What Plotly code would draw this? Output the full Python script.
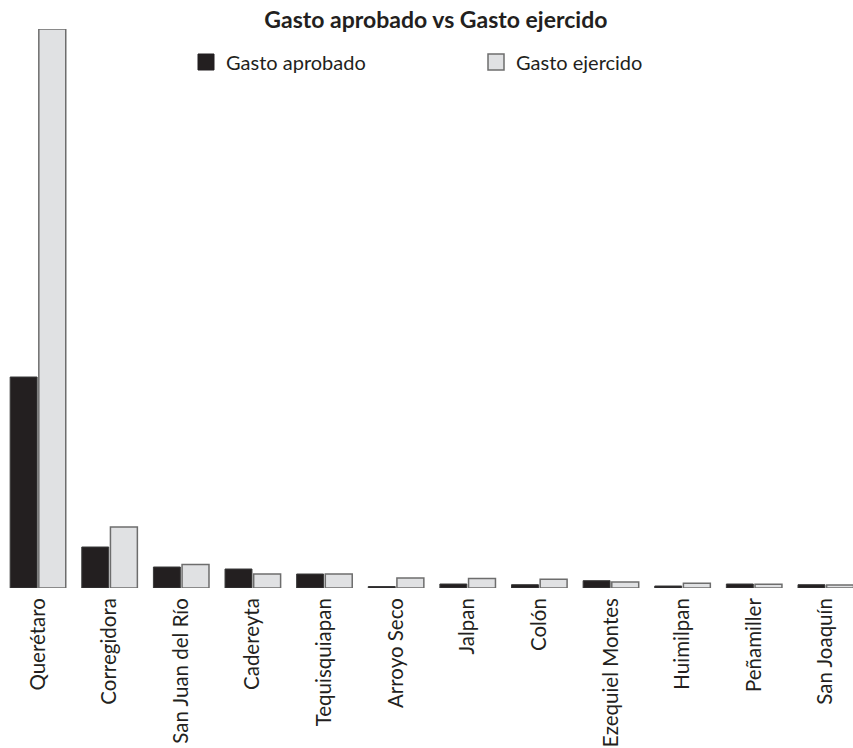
import plotly.graph_objects as go

categorias = ["Querétaro", "Corregidora", "San Juan del Río", "Cadereyta", "Tequisquiapan",
              "Arroyo Seco", "Jalpan", "Colón", "Ezequiel Montes", "Huimilpan",
              "Peñamiller", "San Joaquín"]
gasto_aprobado = [211, 41, 21, 19, 14, 1.5, 4, 3.3, 7.3, 2, 4, 3.3]
gasto_ejercido = [559, 61, 23.5, 14, 14, 10, 9.5, 8.7, 6, 4.7, 3.7, 3]

FONT = "Lato"
DARK = "#231f20"
LIGHT = "#e0e1e3"

fig = go.Figure()
fig.add_trace(go.Bar(
    name="Gasto aprobado", x=categorias, y=gasto_aprobado, showlegend=False,
    marker=dict(color=DARK, line=dict(color="#3a3a3a", width=1)),
))
fig.add_trace(go.Bar(
    name="Gasto ejercido", x=categorias, y=gasto_ejercido, showlegend=False,
    marker=dict(color=LIGHT, line=dict(color="#6d6d6d", width=1.5)),
))
# legend entries with larger square swatches
fig.add_trace(go.Scatter(
    name="Gasto aprobado", x=[None], y=[None], mode="markers",
    marker=dict(symbol="square", size=17, color=DARK, line=dict(color=DARK, width=1)),
))
fig.add_trace(go.Scatter(
    name="Gasto ejercido", x=[None], y=[None], mode="markers",
    marker=dict(symbol="square", size=17, color=LIGHT, line=dict(color="#6d6d6d", width=1.5)),
))

fig.update_layout(
    width=853, height=748,
    paper_bgcolor="white", plot_bgcolor="white",
    margin=dict(l=0, r=0, t=29, b=160, autoexpand=False),
    barmode="group", bargap=0.2, bargroupgap=0.06,
    title=dict(text="<b>Gasto aprobado vs Gasto ejercido</b>", x=0.511, xanchor="center",
               y=1 - 20 / 748, yanchor="middle",
               font=dict(family=FONT, size=23, color=DARK)),
    font=dict(family=FONT, color=DARK),
    legend=dict(orientation="h", x=186 / 853, xanchor="left",
                y=(588 - 62) / 559, yanchor="middle",
                font=dict(family=FONT, size=20, color=DARK),
                entrywidth=245, entrywidthmode="pixels", itemwidth=30,
                bgcolor="rgba(0,0,0,0)"),
    showlegend=True,
)
fig.update_xaxes(range=[-0.53, 11.38], showgrid=False, zeroline=False, showline=False,
                 ticks="", tickangle=-90, ticklabelstandoff=5, automargin=False,
                 tickfont=dict(family=FONT, size=20.5, color=DARK))
fig.update_yaxes(range=[0, 559], showgrid=False, zeroline=False, showline=False,
                 showticklabels=False, ticks="", automargin=False)

fig.write_html("out.html", config={"displayModeBar": False},
               post_script="document.body.style.margin='0';")
